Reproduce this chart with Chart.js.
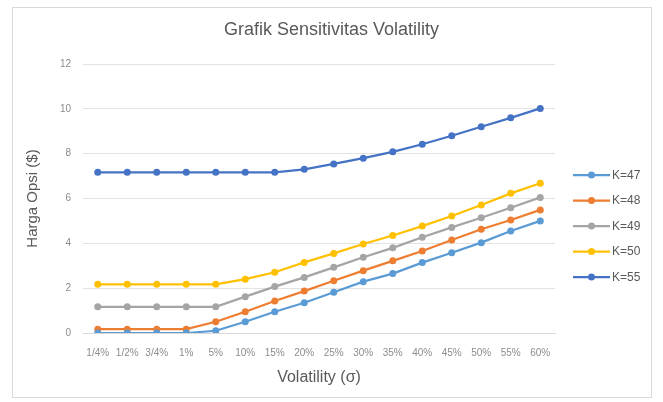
<!DOCTYPE html>
<html>
<head>
<meta charset="utf-8">
<script src="https://cdn.jsdelivr.net/npm/chart.js@4/dist/chart.umd.min.js"></script>
<style>
  html, body { margin: 0; padding: 0; background: #ffffff; }
  #wrap { position: relative; width: 663px; height: 402px; }
  #frame { position: absolute; left: 12px; top: 7px; width: 640px; height: 391px;
           border: 1px solid #d9d9d9; box-sizing: border-box; pointer-events: none; }
</style>
</head>
<body>
<div id="wrap">
  <canvas id="chart" width="663" height="402"></canvas>
  <div id="frame"></div>
</div>
<script>
// Volatility levels on the horizontal axis
const volatility = ['1/4%', '1/2%', '3/4%', '1%', '5%', '10%', '15%', '20%', '25%', '30%', '35%', '40%', '45%', '50%', '55%', '60%'];

// Option price ($) for each strike
const k47 = [0, 0, 0, 0, 0.10, 0.50, 0.95, 1.35, 1.82, 2.29, 2.65, 3.14, 3.58, 4.03, 4.55, 5.00];
const k48 = [0.17, 0.17, 0.17, 0.17, 0.50, 0.95, 1.43, 1.87, 2.33, 2.78, 3.22, 3.66, 4.15, 4.63, 5.04, 5.49];
const k49 = [1.17, 1.17, 1.17, 1.17, 1.17, 1.62, 2.07, 2.48, 2.93, 3.38, 3.80, 4.27, 4.71, 5.14, 5.59, 6.05];
const k50 = [2.17, 2.17, 2.17, 2.17, 2.17, 2.40, 2.71, 3.15, 3.55, 3.97, 4.35, 4.77, 5.22, 5.71, 6.23, 6.68];
const k55 = [7.17, 7.17, 7.17, 7.17, 7.17, 7.17, 7.17, 7.30, 7.54, 7.80, 8.08, 8.42, 8.80, 9.20, 9.60, 10.02];

const seriesNames = ['K=47', 'K=48', 'K=49', 'K=50', 'K=55'];
const seriesValues = [k47, k48, k49, k50, k55];
const seriesColors = ['#5b9bd5', '#ed7d31', '#a5a5a5', '#ffc000', '#4472c4'];

// Y-axis tick range
const yMin = 0, yMax = 12, yStep = 2;

const FONT = "'Liberation Sans', 'DejaVu Sans', sans-serif";
const TEXT_GREY = '#595959';
const TICK_GREY = '#8c8c8c';

// Legend on the right: short line with a marker, then the label
const sideLegend = {
  id: 'sideLegend',
  afterDraw(chart) {
    const ctx = chart.ctx;
    const x0 = 573, lineLen = 37, gap = 25.5, yStart = 175;
    ctx.save();
    chart.data.datasets.forEach((ds, i) => {
      const y = yStart + i * gap;
      ctx.strokeStyle = ds.borderColor;
      ctx.lineWidth = 2.25;
      ctx.beginPath();
      ctx.moveTo(x0, y);
      ctx.lineTo(x0 + lineLen, y);
      ctx.stroke();
      ctx.fillStyle = ds.borderColor;
      ctx.beginPath();
      ctx.arc(x0 + lineLen / 2, y, 3.5, 0, Math.PI * 2);
      ctx.fill();
      ctx.fillStyle = TEXT_GREY;
      ctx.font = '12px ' + FONT;
      ctx.textBaseline = 'middle';
      ctx.textAlign = 'left';
      ctx.fillText(ds.label, x0 + lineLen + 2, y + 0.5);
    });
    ctx.restore();
  }
};

new Chart(document.getElementById('chart'), {
  type: 'line',
  data: {
    labels: volatility,
    datasets: seriesNames.map((name, i) => ({
      label: name,
      data: seriesValues[i],
      borderColor: seriesColors[i],
      backgroundColor: seriesColors[i],
      borderWidth: 2.25,
      pointRadius: 3.5,
      pointHoverRadius: 3.5,
      pointBorderWidth: 0,
      tension: 0,
      fill: false
    }))
  },
  options: {
    responsive: false,
    animation: false,
    layout: { padding: { left: 0, right: 0, top: 0, bottom: 12 } },
    plugins: {
      legend: { display: false },
      tooltip: { enabled: false },
      title: {
        display: true,
        text: 'Grafik Sensitivitas Volatility',
        color: TEXT_GREY,
        font: { family: FONT, size: 18, weight: 'normal' },
        padding: { top: 19.2, bottom: 23.2 }
      }
    },
    scales: {
      x: {
        offset: true,
        grid: { display: false, drawTicks: false },
        border: { display: true, color: '#d9d9d9', width: 1 },
        ticks: {
          autoSkip: false, maxRotation: 0, minRotation: 0,
          color: TICK_GREY, padding: 14,
          font: { family: FONT, size: 10 }
        },
        title: {
          display: true, text: 'Volatility (σ)', color: TEXT_GREY,
          font: { family: FONT, size: 16 },
          padding: { top: 0, bottom: 2.4 }
        },
        afterFit(scale) { scale.height = 402 - 333 - 12; }
      },
      y: {
        min: yMin, max: yMax,
        ticks: {
          stepSize: yStep, color: TICK_GREY, padding: 12,
          font: { family: FONT, size: 10 }
        },
        grid: { color: '#e3e3e3', lineWidth: 1, drawTicks: false },
        border: { display: false },
        title: {
          display: true, text: 'Harga Opsi ($)', color: TEXT_GREY,
          font: { family: FONT, size: 15 },
          padding: { top: 24, bottom: 0 }
        },
        afterFit(scale) { scale.width = 83; }
      },
      // empty right-hand axis that keeps room for the legend
      legendSpace: {
        type: 'linear',
        position: 'right',
        display: true,
        grid: { display: false, drawTicks: false },
        border: { display: false },
        ticks: { display: false },
        afterFit(scale) { scale.width = 108; }
      }
    }
  },
  plugins: [sideLegend]
});
</script>
</body>
</html>
